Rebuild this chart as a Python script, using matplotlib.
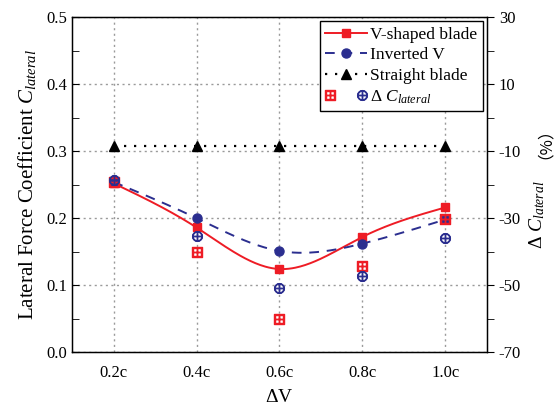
import numpy as np
import matplotlib
matplotlib.use("Agg")
import matplotlib.pyplot as plt
from matplotlib.legend_handler import HandlerTuple
from matplotlib.lines import Line2D

plt.rcParams['font.family'] = ['Liberation Serif', 'Noto Sans CJK SC']
plt.rcParams['mathtext.fontset'] = 'custom'
plt.rcParams['mathtext.rm'] = 'Liberation Serif'
plt.rcParams['mathtext.it'] = 'Liberation Serif:italic'
plt.rcParams['axes.unicode_minus'] = False

# data
X_POS = [0.2, 0.4, 0.6, 0.8, 1.0]
X_LABELS = ["0.2c", "0.4c", "0.6c", "0.8c", "1.0c"]
V_SHAPED = [0.252, 0.186, 0.124, 0.172, 0.216]
INVERTED_V = [0.254, 0.200, 0.151, 0.162, 0.198]
STRAIGHT = [0.308, 0.308, 0.308, 0.308, 0.308]
DELTA_V_SHAPED = [-19.2, -40.0, -60.0, -44.2, -30.4]
DELTA_INVERTED = [-18.7, -35.3, -51.0, -47.2, -35.9]

RED = '#ee1c25'
BLUE = '#2b2e8f'


def natural_spline(x, y, n=200):
    # natural cubic spline through the points (Origin-like smooth line)
    x = np.asarray(x, float)
    y = np.asarray(y, float)
    k = len(x)
    h = np.diff(x)
    A = np.zeros((k, k))
    b = np.zeros(k)
    A[0, 0] = A[-1, -1] = 1
    for i in range(1, k - 1):
        A[i, i - 1] = h[i - 1]
        A[i, i] = 2 * (h[i - 1] + h[i])
        A[i, i + 1] = h[i]
        b[i] = 6 * ((y[i + 1] - y[i]) / h[i] - (y[i] - y[i - 1]) / h[i - 1])
    M = np.linalg.solve(A, b)
    xs = np.linspace(x[0], x[-1], n)
    ys = np.empty_like(xs)
    for j, t in enumerate(xs):
        i = min(np.searchsorted(x, t, side='right') - 1, k - 2)
        a, c = x[i], x[i + 1]
        hi = c - a
        ys[j] = (M[i] * (c - t) ** 3 / (6 * hi) + M[i + 1] * (t - a) ** 3 / (6 * hi)
                 + (y[i] / hi - M[i] * hi / 6) * (c - t)
                 + (y[i + 1] / hi - M[i + 1] * hi / 6) * (t - a))
    return xs, ys


fig = plt.figure(figsize=(5.54, 4.08), dpi=100)
ax = fig.add_axes([0.130, 0.137, 0.749, 0.821])
ax2 = ax.twinx()

# curves
xs, ys = natural_spline(X_POS, V_SHAPED)
ax.plot(xs, ys, color=RED, lw=1.4, zorder=3)
ax.plot(X_POS, V_SHAPED, 's', color=RED, ms=6, zorder=4)
xs, ys = natural_spline(X_POS, INVERTED_V)
ax.plot(xs, ys, color=BLUE, lw=1.4, ls=(0, (5, 4)), zorder=3)
ax.plot(X_POS, INVERTED_V, 'o', color=BLUE, ms=6.5, zorder=4)
ax.plot(X_POS, STRAIGHT, color='black', lw=1.6, ls=(0, (1, 3.5)), marker='^', ms=6.5, zorder=3)

# delta markers on right axis
ax2.plot(X_POS, DELTA_V_SHAPED, ls='none', marker=r'$\boxplus$', color=RED, ms=7, zorder=5)
ax2.plot(X_POS, DELTA_INVERTED, ls='none', marker=r'$\oplus$', color=BLUE, ms=7, zorder=5)

ax.set_xlim(0.1, 1.1)
ax.set_ylim(0, 0.5)
ax.set_xticks(X_POS, labels=X_LABELS)
ax.set_yticks(np.arange(0, 0.51, 0.1))
ax.set_yticks(np.arange(0.05, 0.5, 0.1), minor=True)
ax.yaxis.set_major_formatter(matplotlib.ticker.FormatStrFormatter('%.1f'))
ax.grid(True, which='major', ls=(0, (1.5, 2.5)), color='#9a9a9a', lw=1)
ax.set_axisbelow(True)
ax.tick_params(axis='y', which='both', direction='in', length=5, labelsize=12)
ax.tick_params(axis='x', direction='in', length=0, labelsize=12, pad=9)

ax2.set_ylim(-70, 30)
ax2.set_yticks(np.arange(-70, 31, 20))
ax2.set_yticks(np.arange(-60, 30, 20), minor=True)
ax2.tick_params(axis='y', which='both', direction='out', length=5, labelsize=12)

ax.set_xlabel(r'$\Delta$V', fontsize=14, labelpad=6)
ax.set_ylabel(r'Lateral Force Coefficient $C_{lateral}$', fontsize=15, labelpad=6)
# right label: math part and full-width bracket part drawn separately
ax2.text(1.12, 0.41, r'$\Delta$ $C_{lateral}$', transform=ax2.transAxes,
         rotation=90, ha='center', va='center', fontsize=14)
ax2.text(1.12, 0.65, '（%）', transform=ax2.transAxes, rotation=90,
         ha='center', va='center', fontsize=12, family=['Noto Sans CJK SC'])

for sp in ax.spines.values():
    sp.set_linewidth(1.0)

h1 = Line2D([], [], color=RED, lw=1.4, marker='s', ms=6)
h2 = Line2D([], [], color=BLUE, lw=1.4, ls=(0, (5, 4)), marker='o', ms=6.5)
h3 = Line2D([], [], color='black', lw=1.6, ls=(0, (1, 3.5)), marker='^', ms=6.5)
h4a = Line2D([], [], ls='none', marker=r'$\boxplus$', color=RED, ms=7)
h4b = Line2D([], [], ls='none', marker=r'$\oplus$', color=BLUE, ms=7)
leg = ax2.legend([h1, h2, h3, (h4a, h4b)],
                 ['V-shaped blade', 'Inverted V', 'Straight blade', r'$\Delta$ $C_{lateral}$'],
                 handler_map={tuple: HandlerTuple(ndivide=None, pad=1.2)},
                 loc='upper right', fontsize=12.5, frameon=True, fancybox=False,
                 edgecolor='black', framealpha=1, borderaxespad=0.25,
                 handlelength=2.4, handletextpad=0.2, borderpad=0.3, labelspacing=0.25)
leg.get_frame().set_linewidth(1.0)

fig.savefig('out.png', dpi=100)
